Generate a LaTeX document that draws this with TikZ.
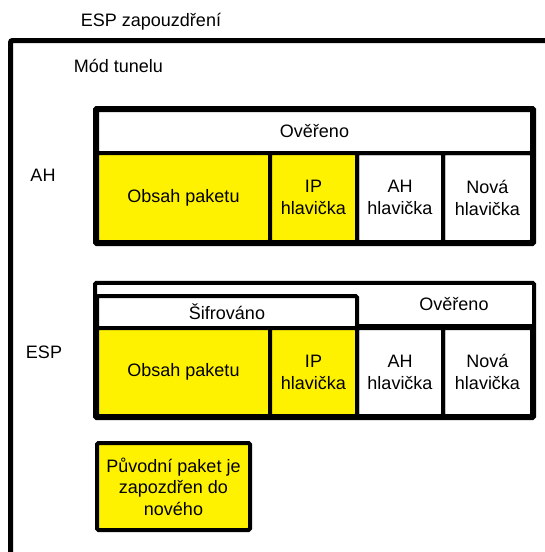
\documentclass[tikz,border=0pt]{standalone}
\usepackage{fontspec}
\setmainfont{Liberation Sans}
\begin{document}
\begin{tikzpicture}[x=1pt,y=-1pt,
  txt/.style={font=\fontsize{18}{22}\selectfont},
  box/.style={draw, line width=4pt, rounded corners=1.5pt, inner sep=0pt,
              align=center, txt},
  yel/.style={box, fill=yellow},
  lbl/.style={inner sep=0pt, anchor=base, txt}]
\useasboundingbox (0,0) rectangle (545,552);

% outer frame, open to the right and bottom
\draw[line width=5pt, rounded corners=2pt] (560,40.5) -- (10.5,40.5) -- (10.5,570);

% titles
\node[lbl] (title) at (151,26.5) {ESP zapouzdření};
\node[lbl] (mode) at (118.5,72.5) {Mód tunelu};
\node[lbl] (lah) at (43,181) {AH};
\node[lbl] (lesp) at (44,358) {ESP};

% AH packet
\node[box, minimum width=435pt, minimum height=43pt] (ahauth) at (314.5,131.5) {Ověřeno};
\node[yel, minimum width=173pt, minimum height=89pt] (ahpay) at (183.5,197.5) {Obsah paketu};
\node[yel, minimum width=87pt, minimum height=89pt] (ahip) at (313.5,197.5) {IP\\hlavička};
\node[box, minimum width=86pt, minimum height=89pt] (ahah) at (400,197.5) {AH\\hlavička};
\node[box, minimum width=89pt, minimum height=89pt] (ahnew) at (487.5,197.5) {Nová\\hlavička};
\draw[line width=4pt, rounded corners=1.5pt] (ahauth.north west) rectangle (ahnew.south east);

% ESP packet
\node[inner sep=0pt, txt, minimum width=175pt, minimum height=43pt] (espauth) at (444.5,304.5) {\hspace*{19pt}Ověřeno};
\node[box, minimum width=260pt, minimum height=32pt] (espenc) at (227,312) {Šifrováno};
\draw[line width=4pt] (espenc.east |- espauth.south) -- (espauth.south east);
\node[yel, minimum width=173pt, minimum height=88pt] (esppay) at (183.5,372) {Obsah paketu};
\node[yel, minimum width=87pt, minimum height=88pt] (espip) at (313.5,372) {IP\\hlavička};
\node[box, minimum width=86pt, minimum height=88pt] (espah) at (400,372) {AH\\hlavička};
\node[box, minimum width=89pt, minimum height=88pt] (espnew) at (487.5,372) {Nová\\hlavička};
\draw[line width=4pt, rounded corners=1.5pt] (esppay.south west |- espauth.north) rectangle (espnew.south east);

% note
\node[yel, minimum width=153pt, minimum height=87pt,
      font=\fontsize{18}{21.5}\selectfont] (note) at (173.5,486.5)
  {Původní paket je\\zapozdřen do\\nového};
\end{tikzpicture}
\end{document}
